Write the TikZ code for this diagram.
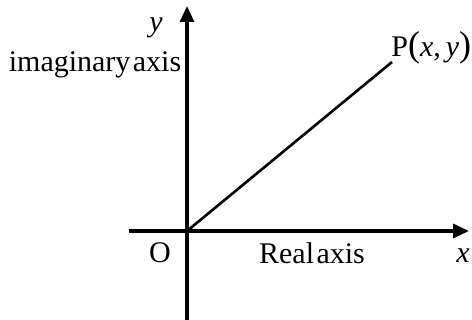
\documentclass[tikz,border=0pt]{standalone}
\usepackage{fontspec}
\setmainfont{Liberation Serif}
\usepackage{tikz}
\usetikzlibrary{arrows.meta,positioning}
\tikzset{
  axisline/.style={line width=1.6pt,-{Triangle[length=8pt,width=7pt]}},
  rayline/.style={line width=1.3pt},
  lbl/.style={font=\fontsize{15}{17}\selectfont,inner sep=0pt},
}
\newcommand{\itv}[1]{\textit{#1}}
\newcommand{\bigpar}[1]{{\fontsize{18}{18}\selectfont#1}}

\begin{document}
\begin{tikzpicture}[x=0.5pt,y=-0.5pt]
\useasboundingbox (0,0) rectangle (472,320);
\coordinate (O) at (187,231);
\coordinate (xstart) at (129,231); \coordinate (xend) at (469,231);
\coordinate (ystart) at (187,320); \coordinate (yend) at (187,6);
\coordinate (P) at (392,62);
\draw[axisline] (xstart) -- (xend);
\draw[axisline] (ystart) -- (yend);
\draw[rayline] (O) -- (P);
\node[lbl,anchor=west] (plabel) at (391,48) {P\bigpar{(}\itv{x},\,\itv{y}\bigpar{)}};
\node[lbl] (ylabel) at (156,28) {\itv{y}};
\node[lbl] (imlabel) at (95,65) {imaginary\hspace{0.08em}axis};
\node[lbl] (olabel) at (160,253) {O};
\node[lbl] (relabel) at (312,253) {Real\hspace{0.08em}axis};
\node[lbl] (xlabel) at (463,256) {\itv{x}};
\end{tikzpicture}
\end{document}
